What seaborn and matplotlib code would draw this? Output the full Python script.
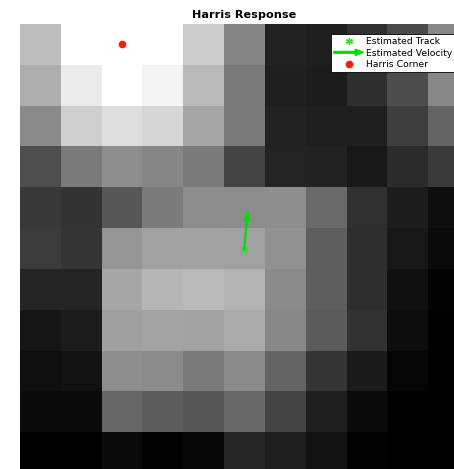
import numpy as np
import pandas as pd
import seaborn as sns
import matplotlib
matplotlib.use("Agg")
import matplotlib.pyplot as plt
import matplotlib.patches as mpatches
from matplotlib.lines import Line2D
from matplotlib.legend_handler import HandlerPatch

# Harris corner response around the tracked feature (8-bit intensity scale)
row0 = [189, 255, 255, 255, 203, 132, 34, 31, 48, 74, 136]
row1 = [173, 235, 255, 244, 185, 122, 31, 28, 47, 77, 136]
row2 = [138, 207, 222, 214, 165, 122, 34, 31, 31, 62, 100]
row3 = [78, 122, 142, 134, 122, 69, 35, 34, 24, 43, 58]
row4 = [57, 51, 87, 123, 140, 140, 141, 105, 48, 29, 14]
row5 = [60, 53, 149, 160, 162, 160, 145, 94, 46, 24, 10]
row6 = [36, 37, 166, 182, 185, 179, 138, 94, 46, 17, 3]
row7 = [22, 28, 159, 163, 162, 171, 136, 91, 50, 13, 0]
row8 = [15, 18, 142, 139, 122, 138, 100, 53, 27, 5, 0]
row9 = [10, 11, 102, 93, 87, 104, 69, 31, 11, 0, 0]
row10 = [0, 0, 10, 3, 6, 38, 30, 18, 2, 0, 0]
response = np.array([row0, row1, row2, row3, row4, row5,
                     row6, row7, row8, row9, row10], dtype=float)

# Tracker state (heatmap cell coordinates)
track_x = [5.49]
track_y = [5.52]
velocity_u = [0.10]
velocity_v = [-1.01]
corner_x = [2.5]
corner_y = [0.5]

fig = plt.figure(figsize=(4.54, 4.69), dpi=100)
ax = fig.add_axes([20 / 454, 1 - 24 / 469 - 449 / 469, 449 / 454, 449 / 469])

sns.heatmap(pd.DataFrame(response), ax=ax, cmap="gray", vmin=0, vmax=255,
            cbar=False, xticklabels=False, yticklabels=False, square=False)
ax.set_xlabel("")
ax.set_ylabel("")

green = "#00dd00"
ax.plot(track_x, track_y, linestyle="none", marker=(6, 2, 0), markersize=5,
        color="#33dd33", markeredgewidth=1.0)
for x0, y0, u, v in zip(track_x, track_y, velocity_u, velocity_v):
    ax.annotate("", xy=(x0 + u, y0 + v), xytext=(x0, y0),
                arrowprops=dict(arrowstyle="-|>,head_length=0.6,head_width=0.16",
                                color=green, lw=1.5, shrinkA=0, shrinkB=0))
ax.plot(corner_x, corner_y, linestyle="none", marker="o", markersize=4.5,
        color="#ff1a00", markeredgecolor="#ff1a00")

ax.set_title("Harris Response", fontsize=8.1, fontweight="bold", pad=4)


def make_arrow(legend, orig_handle, xdescent, ydescent, width, height, fontsize):
    return mpatches.FancyArrow(-xdescent, height / 2 - ydescent, width, 0,
                               length_includes_head=True, width=1.2,
                               head_width=4.5, head_length=6)


h_track = Line2D([], [], linestyle="none", marker=(6, 2, 0), markersize=5,
                 color="#33dd33", markeredgewidth=1.0)
h_vel = mpatches.FancyArrow(0, 0, 1, 0, color=green)
h_corner = Line2D([], [], linestyle="none", marker="o", markersize=4.5,
                  color="#ff1a00")
leg = ax.legend([h_track, h_vel, h_corner],
                ["Estimated Track", "Estimated Velocity", "Harris Corner"],
                loc="upper left", bbox_to_anchor=(331 / 454, 1 - 34 / 469),
                bbox_transform=fig.transFigure, borderaxespad=0,
                fontsize=6.7, frameon=True, fancybox=False,
                framealpha=1, edgecolor="black", handlelength=3.2,
                handletextpad=0.3, labelspacing=0.3, borderpad=0.3,
                handler_map={mpatches.FancyArrow: HandlerPatch(patch_func=make_arrow)})
leg.get_frame().set_linewidth(0.6)

fig.savefig("out.png", dpi=100)
